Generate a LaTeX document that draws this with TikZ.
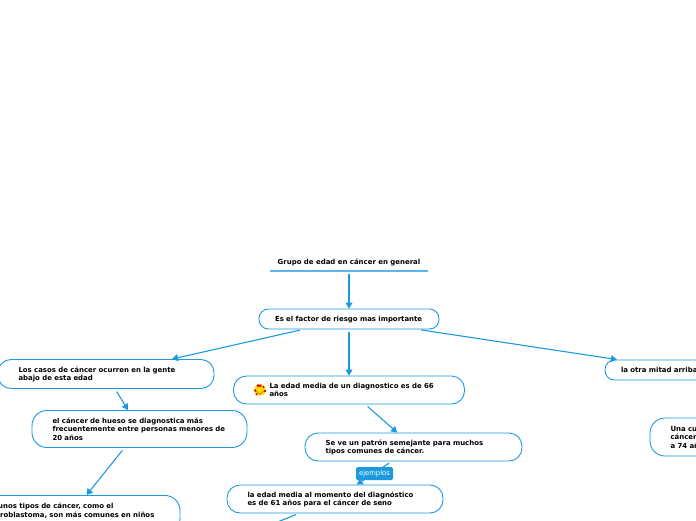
\documentclass[tikz,border=0pt]{standalone}
\usepackage{fontspec}
\setmainfont{DejaVu Sans}
\usetikzlibrary{arrows.meta}
\normallineskiplimit=-100pt
\lineskiplimit=-100pt
\definecolor{linkblue}{HTML}{1B9AE0}
\definecolor{underblue}{HTML}{5DB6EA}
\newcommand{\tline}[1]{\makebox[0pt][l]{\raisebox{-2.6pt}[0pt][0pt]{#1}}}
\tikzset{
  topic/.style n args={3}{draw=linkblue, line width=0.9pt, fill=white, rounded corners=#3,
    minimum height=#2, text width=#1-41pt, inner xsep=20.5pt, inner ysep=0pt, align=left,
    font=\bfseries\fontsize{6.95}{8.6}\selectfont, text=black},
  link/.style={draw=linkblue, line width=1.1pt, shorten <=3pt, -{Triangle[length=6pt,width=7pt]}},
  tag/.style={fill=linkblue, rounded corners=1.5pt, text=white, minimum width=37pt, minimum height=13pt,
    inner sep=0pt, font=\fontsize{6.8}{8}\selectfont},
  titlebox/.style={minimum width=157pt, minimum height=19pt, inner sep=0pt,
    font=\bfseries\fontsize{6.95}{8.6}\selectfont, text=black},
}
\begin{document}
\begin{tikzpicture}[x=1pt,y=-1pt]
\useasboundingbox (0,0) rectangle (696,520);
\clip (0,0) rectangle (696,520);
\node[titlebox] (title) at (349,261.5) {\raisebox{-2.6pt}[0pt][0pt]{Grupo de edad en cáncer en general}};
\draw[underblue, line width=1.6pt] (title.south west) -- (title.south east);
\node[topic={180pt}{20pt}{9.5pt}] (factor) at (349,319) {\hspace*{-4.5pt}\tline{Es el factor de riesgo mas importante}};
\node[topic={216pt}{29pt}{13pt}] (left) at (106,374) {\tline{Los casos de cáncer ocurren en la gente}\\\tline{abajo de esta edad}};
\node[topic={231pt}{28pt}{13pt}] (mid) at (349,390) {\hspace*{15.5pt}\tline{La edad media de un diagnostico es de 66}\\\hspace*{15.5pt}\tline{años}};
\node[topic={162pt}{20pt}{9.5pt}] (right) at (686,370) {\hspace*{-4.5pt}\tline{la otra mitad arriba}};
\node[topic={215pt}{37pt}{15pt}] (bone) at (139.5,429) {\tline{el cáncer de hueso se diagnostica más}\\\tline{frecuentemente entre personas menores de}\\\tline{20 años}};
\node[topic={217pt}{28pt}{13pt}] (pattern) at (413.5,447) {\tline{Se ve un patrón semejante para muchos}\\\tline{tipos comunes de cáncer.}};
\node[topic={216pt}{28pt}{13pt}] (breast) at (335,499) {\tline{la edad media al momento del diagnóstico}\\\tline{es de 61 años para el cáncer de seno}};
\node[topic={218pt}{38pt}{15pt}, anchor=north] (child) at (71,495) {\hspace*{3pt}\tline{Algunos tipos de cáncer, como el}\\\hspace*{3pt}\tline{neuroblastoma, son más comunes en niños}\\\tline{\phantom{x}}};
\node[topic={216pt}{38pt}{15pt}] (quarter) at (758,437) {\tline{Una cuarta parte}\\\tline{cáncer}\\\tline{a 74 años}};
\coordinate (next) at (235,539);
\draw[link] (title) -- (factor);
\draw[link] (factor) -- (left);
\draw[link] (factor) -- (mid);
\draw[link] (factor) -- (right);
\draw[link] (left) -- (bone);
\draw[link] (bone) -- (child);
\draw[link] (mid) -- (pattern);
\draw[link] (pattern) -- (breast);
\node[tag] (tagnode) at (374.5,473.5) {ejemplos};
\draw[link] (breast) -- (next);
% emoji
\fill[yellow!80!orange] (260,390) circle (5.8pt);
\fill[orange!80!yellow] (256.8,391.5) circle (1pt) (263.2,391.5) circle (1pt);
\draw[brown!70!black, line width=0.5pt] (257.5,392.5) .. controls (259,394.5) and (261,394.5) .. (262.5,392.5);
\fill[red!85!black] (258,385.7) circle (1.5pt) (260.2,385.7) circle (1.5pt) (255.2,390.5) circle (1.3pt) (265,391) circle (1.4pt) (263.5,387) circle (1.1pt) (256.5,394.2) circle (1.1pt);
\end{tikzpicture}
\end{document}
